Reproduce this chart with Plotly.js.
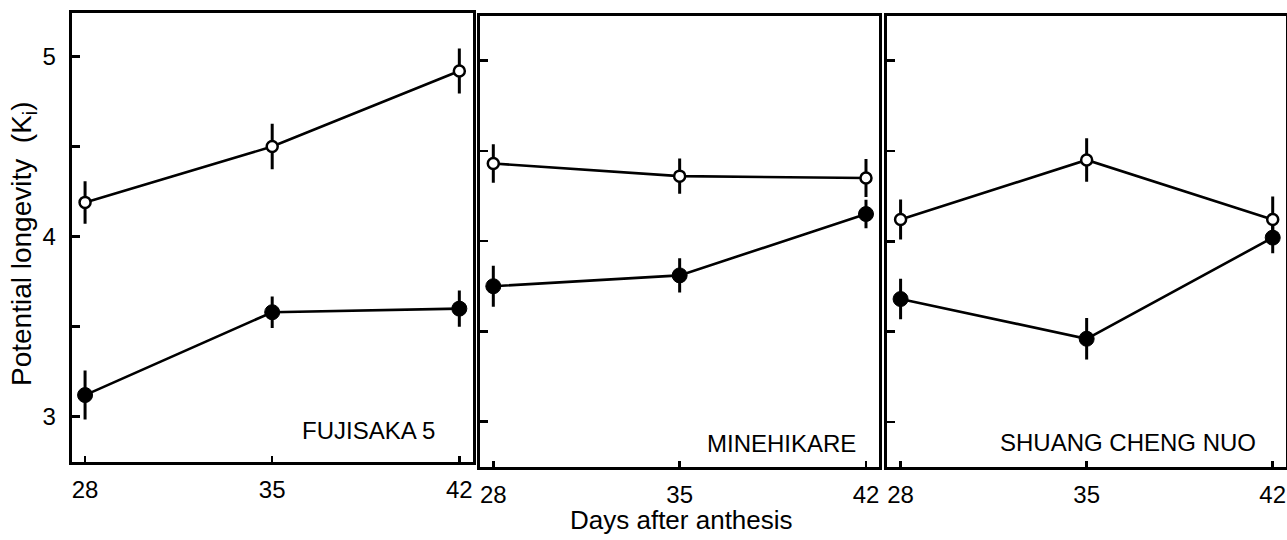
<!DOCTYPE html>
<html>
<head>
<meta charset="utf-8">
<script src="https://cdn.plot.ly/plotly-3.0.1.min.js"></script>
<style>html,body{margin:0;padding:0;background:#fff;}#chart{width:1287px;height:540px;}</style>
</head>
<body>
<div id="chart"></div>
<script>
const days = [28, 35, 42];
const dayTicks = ['28', '35', '42'];
const yTickVals = [3, 4, 5];
const yTickText = ['3', '4', '5'];
const cultivars = ['FUJISAKA 5', 'MINEHIKARE', 'SHUANG CHENG NUO'];

const fujisakaOpen = [4.19, 4.50, 4.92];
const fujisakaOpenErr = [0.118, 0.126, 0.125];
const fujisakaFilled = [3.12, 3.58, 3.60];
const fujisakaFilledErr = [0.136, 0.087, 0.10];

const minehikareOpen = [4.43, 4.36, 4.35];
const minehikareOpenErr = [0.107, 0.098, 0.105];
const minehikareFilled = [3.75, 3.81, 4.15];
const minehikareFilledErr = [0.114, 0.095, 0.079];

const shuangOpen = [4.12, 4.45, 4.12];
const shuangOpenErr = [0.111, 0.12, 0.128];
const shuangFilled = [3.68, 3.46, 4.02];
const shuangFilledErr = [0.112, 0.115, 0.086];

const W = 1287, H = 540;
const FONT = 'Liberation Sans, Arial, Helvetica, sans-serif';

function series(y, err, open, xa, ya) {
  return {
    x: days, y: y, xaxis: xa, yaxis: ya, type: 'scatter', mode: 'lines+markers',
    line: {color: '#000', width: 2.6},
    marker: open ? {symbol: 'circle', size: 11, color: '#fff', line: {color: '#000', width: 2.5}}
                 : {symbol: 'circle', size: 15, color: '#000', line: {color: '#000', width: 1}},
    error_y: {type: 'data', array: err, visible: true, thickness: 3, width: 0, color: '#000'},
    showlegend: false, hoverinfo: 'skip'
  };
}

const data = [
  series(fujisakaFilled, fujisakaFilledErr, false, 'x', 'y'),
  series(fujisakaOpen, fujisakaOpenErr, true, 'x', 'y'),
  series(minehikareFilled, minehikareFilledErr, false, 'x2', 'y2'),
  series(minehikareOpen, minehikareOpenErr, true, 'x2', 'y2'),
  series(shuangFilled, shuangFilledErr, false, 'x3', 'y3'),
  series(shuangOpen, shuangOpenErr, true, 'x3', 'y3')
];

function xax(l, r, anchor) {
  return {
    domain: [l / W, r / W], anchor: anchor, range: [27.5, 42.5],
    tickmode: 'array', tickvals: days, ticktext: dayTicks,
    ticks: 'inside', ticklen: 6, tickwidth: 2.5, tickcolor: '#000',
    showline: true, linewidth: 3, linecolor: '#000', mirror: true,
    showgrid: false, zeroline: false, ticklabelstandoff: 4,
    tickfont: {family: FONT, size: 24, color: '#000'}
  };
}
function yax(top, bottom, anchor, range, labels) {
  return {
    domain: [1 - bottom / H, 1 - top / H], anchor: anchor, range: range,
    tickmode: 'array', tickvals: yTickVals, ticktext: yTickText,
    ticks: 'inside', ticklen: 8, tickwidth: 2.5, tickcolor: '#000',
    minor: {dtick: 0.5, tick0: 0, ticks: 'inside', ticklen: 8, tickwidth: 2.5, tickcolor: '#000', showgrid: false},
    showline: true, linewidth: 3, linecolor: '#000', mirror: true,
    showgrid: false, zeroline: false, showticklabels: labels, ticklabelstandoff: 8,
    tickfont: {family: FONT, size: 24, color: '#000'}
  };
}

const layout = {
  width: W, height: H,
  margin: {l: 0, r: 0, t: 0, b: 0},
  paper_bgcolor: '#fff', plot_bgcolor: '#fff',
  font: {family: FONT, color: '#000'},
  xaxis: xax(71.7, 472.7, 'y'),
  xaxis2: xax(480, 879.3, 'y2'),
  xaxis3: xax(887.3, 1286, 'y3'),
  yaxis: yax(13.3, 461.7, 'x', [2.75, 5.24], true),
  yaxis2: yax(15.5, 466.7, 'x2', [2.75, 5.25], false),
  yaxis3: yax(15.5, 467, 'x3', [2.75, 5.25], false),
  annotations: [
    {text: cultivars[0], xref: 'paper', yref: 'paper', x: 368 / W, y: 1 - 430 / H, showarrow: false, xanchor: 'center', yanchor: 'middle', font: {family: FONT, size: 24, color: '#000'}},
    {text: cultivars[1], xref: 'paper', yref: 'paper', x: 781.7 / W, y: 1 - 443 / H, showarrow: false, xanchor: 'center', yanchor: 'middle', font: {family: FONT, size: 24, color: '#000'}},
    {text: cultivars[2], xref: 'paper', yref: 'paper', x: 1127.7 / W, y: 1 - 442 / H, showarrow: false, xanchor: 'center', yanchor: 'middle', font: {family: FONT, size: 24, color: '#000'}},
    {text: 'Days after anthesis', xref: 'paper', yref: 'paper', x: 681 / W, y: 1 - 520 / H, showarrow: false, xanchor: 'center', yanchor: 'middle', font: {family: FONT, size: 26, color: '#000'}},
    {text: 'Potential longevity  (K<sub>i</sub>)', xref: 'paper', yref: 'paper', x: 23 / W, y: 1 - 244 / H, showarrow: false, textangle: -90, xanchor: 'center', yanchor: 'middle', font: {family: FONT, size: 28, color: '#000'}}
  ]
};

Plotly.newPlot('chart', data, layout, {displayModeBar: false, staticPlot: true});
</script>
</body>
</html>
